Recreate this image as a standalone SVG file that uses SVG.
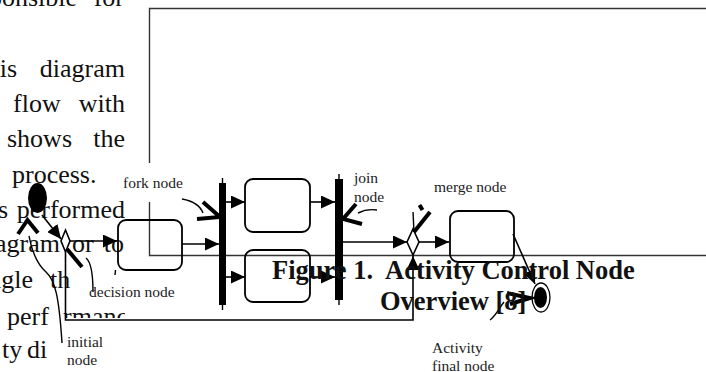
<svg xmlns="http://www.w3.org/2000/svg" width="706" height="372" viewBox="0 0 706 372">
<style>
.body{font-family:"Liberation Serif",serif;font-size:26px;fill:#111}
.lbl{font-family:"Liberation Serif",serif;font-size:15.5px;fill:#222}
.cap{font-family:"Liberation Serif",serif;font-size:26.5px;font-weight:bold;fill:#111}
.frame{stroke:#333;stroke-width:1.4;fill:none}
.flow{stroke:#000;stroke-width:1.6;fill:none}
.act{fill:none;stroke:#000;stroke-width:1.8}
.note{stroke:#000;stroke-width:4;fill:none}
.thin{stroke:#000;stroke-width:1.4;fill:none}
</style>
<defs>
<marker id="ah" markerUnits="userSpaceOnUse" markerWidth="15" markerHeight="13" refX="14" refY="6.5" orient="auto">
<path d="M0,0 L14,6.5 L0,13 z" fill="#000"/>
</marker>
<clipPath id="topclip"><rect x="63" y="0" width="62" height="318"/></clipPath>
</defs>
<rect width="706" height="372" fill="#fff"/>

<g id="bodytext" class="body">
<text x="77" y="6" text-anchor="end">ponsible</text>
<text x="124" y="6" text-anchor="end">for</text>
<text x="17" y="77" text-anchor="end">is</text>
<text x="125" y="77" text-anchor="end">diagram</text>
<text x="13" y="112">flow</text>
<text x="125" y="112" text-anchor="end">with</text>
<text x="7" y="147">shows</text>
<text x="125" y="147" text-anchor="end">the</text>
<text x="12" y="183">process.</text>
<text x="8" y="218" text-anchor="end">s</text>
<text x="125" y="218" text-anchor="end">performed</text>
<text x="60" y="252" text-anchor="end">agram</text>
<text x="72" y="252">or</text>
<text x="124" y="252" text-anchor="end">to</text>
<text x="33" y="288" text-anchor="end">ngle</text>
<text x="50" y="288">th</text>
<text x="7" y="325">perf</text>
<text x="50" y="325" clip-path="url(#topclip)">ormance</text>
<text x="2" y="358">ty</text>
<text x="27" y="358">di</text>
</g>

<g id="frame">
<path class="frame" d="M149.5,163 V8.5 H706 M149.5,202 V255.5 H706"/>
</g>

<g id="connectors">
<path class="flow" d="M42,215 L61,239" marker-end="url(#ah)"/>
<path class="flow" d="M70,241 H117" marker-end="url(#ah)"/>
<path class="flow" d="M65.5,252 V320 H413 V256" marker-end="url(#ah)"/>
<path class="flow" d="M182,244 H219" marker-end="url(#ah)"/>
<path class="flow" d="M226,202 H245" marker-end="url(#ah)"/>
<path class="flow" d="M226,277 H245" marker-end="url(#ah)"/>
<path class="flow" d="M310,202 H335" marker-end="url(#ah)"/>
<path class="flow" d="M310,277 H335" marker-end="url(#ah)"/>
<path class="flow" d="M343,242 H407" marker-end="url(#ah)"/>
<path class="flow" d="M419,242 H449" marker-end="url(#ah)"/>
<path class="flow" d="M513,234 L535,284" marker-end="url(#ah)"/>
</g>

<g id="initial-node"><ellipse cx="37.5" cy="198" rx="9.5" ry="15" fill="#000"/></g>
<g id="decision-node"><polygon points="65.5,230 70,241 65.5,252 61,241" fill="#fff" stroke="#000" stroke-width="1.6"/></g>
<g id="action1"><rect class="act" x="118" y="220" width="64" height="50" rx="8"/></g>
<g id="fork-node"><rect x="219" y="183" width="7" height="122" fill="#000"/><path class="thin" d="M222.5,178 V183 M222.5,305 V310" stroke-width="1"/></g>
<g id="action2"><rect class="act" x="245" y="179" width="65" height="53" rx="8"/></g>
<g id="action3"><rect class="act" x="245" y="250" width="65" height="52" rx="8"/></g>
<g id="join-node"><rect x="335" y="179" width="8" height="121" fill="#000"/><path class="thin" d="M339,174 V179 M339,300 V305" stroke-width="1"/></g>
<g id="merge-node"><polygon points="413,229 419,242 413,255 407,242" fill="#fff" stroke="#000" stroke-width="1.6"/></g>
<g id="action4"><rect class="act" x="450" y="211" width="64" height="51" rx="8"/></g>
<g id="final-node"><ellipse cx="541" cy="297.5" rx="9" ry="14.5" fill="#fff" stroke="#000" stroke-width="1.3"/><ellipse cx="540.5" cy="297.5" rx="6.5" ry="10.5" fill="#000"/></g>

<g id="annotations">
<path class="note" d="M18,234 L27.5,220 L38,233"/>
<path class="thin" d="M29,236 C32,252 37,264 46,272 C55,280 59,296 62,343"/>
<path class="note" d="M67,249 L82,267"/>
<path class="thin" d="M86,258 C91,262 93,272 93,292"/>
<path class="note" d="M203,202 L220,217 L197,219"/>
<path class="thin" d="M182,199 C193,201 200,205 203,213"/>
<path class="note" d="M356,204 L343,219 L362,224"/>
<path class="thin" d="M358,213 C364,210 370,209 377,210"/>
<path class="note" d="M430,212 L414,232"/>
<path class="thin" d="M413,212 L414,232"/>
<path class="note" d="M419.5,205 L422.5,210" stroke-width="2.5"/>
<path class="note" d="M507,293 L530,298 L510,304"/>
<path class="thin" d="M490,320 C496,316 499,308 504,302"/>
<path class="thin" d="M115.5,270 L115,275" stroke-width="1"/>
</g>

<g id="labels" class="lbl">
<text x="123" y="188">fork node</text>
<text x="89" y="297">decision node</text>
<text x="67" y="347">initial</text>
<text x="67" y="365">node</text>
<text x="354" y="183">join</text>
<text x="354" y="202">node</text>
<text x="434" y="192">merge node</text>
<text x="432" y="353">Activity</text>
<text x="432" y="371">final node</text>
</g>

<g id="caption" class="cap">
<text x="272" y="279">Figure 1.</text>
<text x="385" y="279">Activity Control Node</text>
<text x="380" y="310">Overview [8]</text>
</g>
</svg>
